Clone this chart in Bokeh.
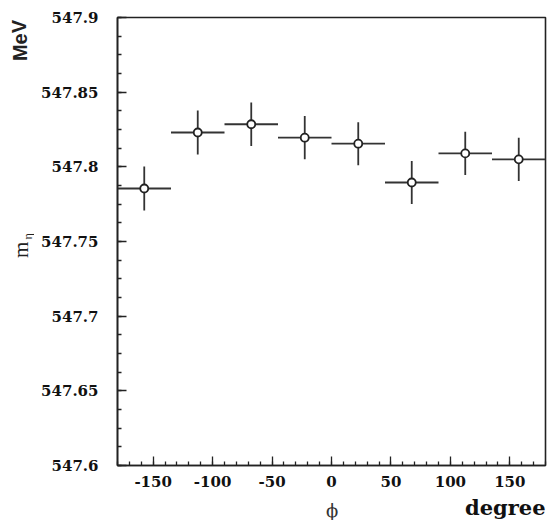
from bokeh.plotting import figure
from bokeh.models import Range1d, FixedTicker, Spacer
from bokeh.layouts import column, row
from bokeh.core.properties import value
from bokeh.embed import file_html
from bokeh.resources import INLINE

# data
phi = [-157.5, -112.5, -67.5, -22.5, 22.5, 67.5, 112.5, 157.5]
phi_err = [22.5, 22.5, 22.5, 22.5, 22.5, 22.5, 22.5, 22.5]
m_eta = [547.7855, 547.8230, 547.8285, 547.8195, 547.8155, 547.7895, 547.8090, 547.8050]
m_err = [0.0147, 0.0147, 0.0145, 0.0145, 0.0144, 0.0144, 0.0145, 0.0145]

y_ticks = [547.6, 547.65, 547.7, 547.75, 547.8, 547.85, 547.9]
y_tick_labels = ["547.6", "547.65", "547.7", "547.75", "547.8", "547.85", "547.9"]
x_ticks = [-150, -100, -50, 0, 50, 100, 150]
x_tick_labels = ["-150", "-100", "-50", "0", "50", "100", "150"]

xr = Range1d(-180, 180)
yr = Range1d(547.6, 547.9)

LEFT_W = 34
BOTTOM_H = 25
MAIN_H = 520 - BOTTOM_H

p = figure(width=548 - LEFT_W, height=MAIN_H, output_backend="svg", toolbar_location=None,
           x_range=xr, y_range=yr,
           min_border_left=117 - LEFT_W, min_border_right=3, min_border_top=17,
           min_border_bottom=MAIN_H - 465)
p.background_fill_color = "white"
p.border_fill_color = "white"
p.grid.visible = False
p.outline_line_color = "#222222"
p.outline_line_width = 1.6

TICK_FONT = "DejaVu Serif"
for ax in (p.xaxis[0], p.yaxis[0]):
    ax.axis_line_color = "#222222"
    ax.axis_line_width = 1.6
    ax.major_tick_line_color = "#222222"
    ax.minor_tick_line_color = "#222222"
    ax.major_tick_line_width = 1.3
    ax.minor_tick_line_width = 1.3
    ax.major_tick_out = 0
    ax.minor_tick_out = 0
    ax.major_tick_in = 9
    ax.minor_tick_in = 4
    ax.major_label_text_font = TICK_FONT
    ax.major_label_text_font_style = "bold"
    ax.major_label_text_font_size = "15px"
    ax.major_label_text_color = "#111111"

p.yaxis.ticker = FixedTicker(ticks=y_ticks,
                             minor_ticks=[547.6 + 0.0125 * i for i in range(25)])
p.yaxis.major_label_overrides = {t: l for t, l in zip(y_ticks, y_tick_labels)}
p.yaxis.major_label_standoff = 19
p.xaxis.ticker = FixedTicker(ticks=x_ticks, minor_ticks=list(range(-180, 181, 10)))
p.xaxis.major_label_overrides = {t: l for t, l in zip(x_ticks, x_tick_labels)}
p.xaxis.major_label_standoff = 10

# error bars and points
x0 = [x - e for x, e in zip(phi, phi_err)]
x1 = [x + e for x, e in zip(phi, phi_err)]
y0 = [y - e for y, e in zip(m_eta, m_err)]
y1 = [y + e for y, e in zip(m_eta, m_err)]
p.segment(x0=x0, y0=m_eta, x1=x1, y1=m_eta, line_color="#333333", line_width=1.8)
p.segment(x0=phi, y0=y0, x1=phi, y1=y1, line_color="#333333", line_width=1.8)
p.scatter(phi, m_eta, marker="circle", size=8, fill_color="white",
          line_color="#222222", line_width=1.8)


def strip(width, height, x_range, y_range, **borders):
    f = figure(width=width, height=height, output_backend="svg", toolbar_location=None,
               x_range=x_range, y_range=y_range,
               min_border_left=borders.get("left", 0), min_border_right=borders.get("right", 0),
               min_border_top=borders.get("top", 0), min_border_bottom=borders.get("bottom", 0))
    f.axis.visible = False
    f.grid.visible = False
    f.outline_line_color = None
    f.background_fill_color = "white"
    f.border_fill_color = "white"
    return f


# left strip: y-axis titles, sharing the main y range
left = strip(LEFT_W, MAIN_H, Range1d(0, LEFT_W), yr, top=17, bottom=MAIN_H - 465)
left.text(x=[19], y=[547.8846], text=["MeV"], angle=1.5708,
          text_font=value("Liberation Sans"), text_font_style="bold", text_font_size="20px",
          text_align="center", text_baseline="middle", text_color="#222222")
left.text(x=[20.5], y=[547.7445], text=["m"], angle=1.5708,
          text_font=value("Liberation Serif"), text_font_size="21px",
          text_align="center", text_baseline="middle", text_color="#222222")
left.text(x=[27.5], y=[547.7535], text=["\u03b7"], angle=1.5708,
          text_font=value("Liberation Serif"), text_font_size="12px",
          text_align="center", text_baseline="middle", text_color="#222222")

# bottom strip: x-axis titles, sharing the main x range
bottom = strip(548 - LEFT_W, BOTTOM_H, xr, Range1d(0, BOTTOM_H),
               left=117 - LEFT_W, right=3)
bottom.text(x=[0.5], y=[10], text=["\u03d5"],
            text_font=value("DejaVu Serif"), text_font_size="18px",
            text_align="center", text_baseline="middle", text_color="#333333")
bottom.text(x=[180], y=[13], text=["degree"],
            text_font=value("DejaVu Serif"), text_font_style="bold", text_font_size="21px",
            text_align="right", text_baseline="middle", text_color="#111111")

layout = column(row(left, p, spacing=0),
                row(Spacer(width=LEFT_W, height=BOTTOM_H), bottom, spacing=0),
                spacing=0)

open("out.html", "w").write(file_html(layout, INLINE))
